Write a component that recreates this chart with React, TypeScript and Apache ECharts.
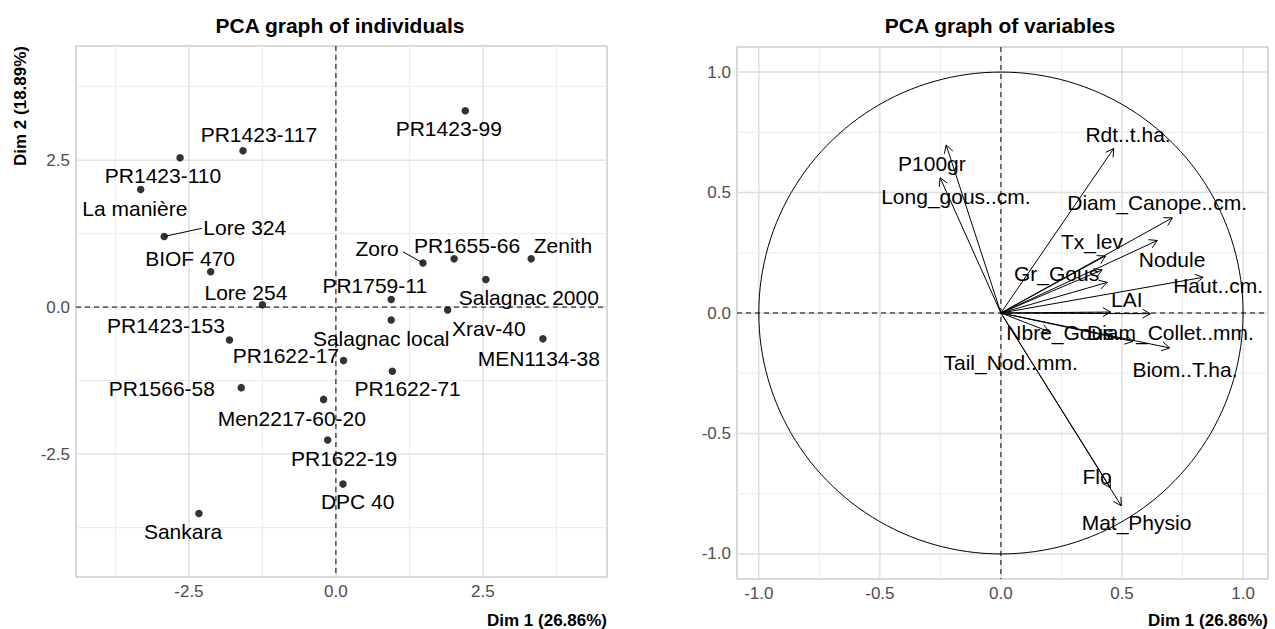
import React, { useEffect, useRef } from "react";
import * as echarts from "echarts";

// ---------- Individuals (PCA graph of individuals) ----------
const individuals = [
  "PR1423-99", "PR1423-117", "PR1423-110", "La manière", "Lore 324", "BIOF 470",
  "Lore 254", "Zoro", "PR1655-66", "Zenith", "Salagnac 2000", "Xrav-40",
  "PR1759-11", "Salagnac local", "MEN1134-38", "PR1423-153", "PR1622-17",
  "PR1622-71", "PR1566-58", "Men2217-60-20", "PR1622-19", "DPC 40", "Sankara",
];
const indDim1 = [
  2.2, -1.58, -2.65, -3.32, -2.92, -2.13, -1.25, 1.48, 2.01, 3.32, 2.55, 1.9,
  0.94, 0.94, 3.52, -1.81, 0.13, 0.96, -1.61, -0.21, -0.14, 0.12, -2.33,
];
const indDim2 = [
  3.34, 2.66, 2.54, 2.0, 1.2, 0.6, 0.04, 0.75, 0.82, 0.82, 0.47, -0.05,
  0.13, -0.22, -0.54, -0.56, -0.91, -1.09, -1.37, -1.57, -2.26, -3.01, -3.51,
];
// repelled label anchors (text centres) in Dim units
const indLabelDim1 = [
  1.92, -1.31, -2.94, -3.42, -1.55, -2.48, -1.53, 0.7, 2.23, 3.86, 3.28, 2.6,
  0.66, 0.77, 3.45, -2.89, -0.85, 1.22, -2.96, -0.75, 0.14, 0.37, -2.6,
];
const indLabelDim2 = [
  3.04, 2.93, 2.24, 1.68, 1.36, 0.83, 0.255, 0.99, 1.05, 1.04, 0.17, -0.37,
  0.37, -0.53, -0.88, -0.31, -0.82, -1.39, -1.38, -1.89, -2.57, -3.3, -3.81,
];
// leader segments: [individual index, end Dim1, end Dim2]
const indLeaders = [
  [4, -2.28, 1.34],
  [7, 1.14, 0.94],
];

// ---------- Variables (PCA graph of variables) ----------
const variables = [
  "P100gr", "Long_gous..cm.", "Rdt..t.ha.", "Diam_Canope..cm.", "Nodule", "Tx_lev",
  "Gr_Gous", "", "Haut..cm.", "LAI", "Diam_Collet..mm.", "Tail_Nod..mm.",
  "Nbre_Gous", "Biom..T.ha.", "Flo", "Mat_Physio",
];
const varDim1 = [
  -0.226, -0.251, 0.466, 0.708, 0.646, 0.432, 0.418, 0.439, 0.835, 0.453, 0.617,
  0.2, 0.545, 0.697, 0.452, 0.497,
];
const varDim2 = [
  0.697, 0.561, 0.683, 0.395, 0.301, 0.237, 0.179, 0.127, 0.148, 0.004, -0.003,
  -0.078, -0.118, -0.145, -0.725, -0.8,
];
const varLabelDim1 = [
  -0.285, -0.186, 0.525, 0.645, 0.707, 0.376, 0.23, 0, 0.897, 0.52, 0.7,
  0.04, 0.244, 0.76, 0.397, 0.56,
];
const varLabelDim2 = [
  0.622, 0.485, 0.74, 0.46, 0.22, 0.295, 0.166, 0, 0.116, 0.054, -0.083,
  -0.207, -0.083, -0.236, -0.68, -0.87,
];

// ---------- Axes ----------
const indTicks = [-2.5, 0, 2.5];
const indMinor = [-3.75, -1.25, 1.25, 3.75];
const varTicks = [-1, -0.5, 0, 0.5, 1];
const varMinor = [-0.75, -0.25, 0.25, 0.75];
const indXRange = [-4.42, 4.61];
const indYRange = [-4.59, 4.44];
const varXRange = [-1.09, 1.103];
const varYRange = [-1.104, 1.104];

const FONT = "'Liberation Sans', Arial, Helvetica, sans-serif";
const LABEL_FONT = `21px ${FONT}`;

function gridLinesSeries(gi: number, major: number[], minor: number[]) {
  const data: number[][] = [];
  major.forEach((v) => { data.push([v, 0, 1]); data.push([v, 1, 1]); });
  minor.forEach((v) => { data.push([v, 0, 0]); data.push([v, 1, 0]); });
  return {
    type: "custom",
    xAxisIndex: gi,
    yAxisIndex: gi,
    silent: true,
    z: 1,
    data,
    renderItem: (params: any, api: any) => {
      const cs = params.coordSys;
      const v = api.value(0);
      const vertical = api.value(1) === 0;
      const isMajor = api.value(2) === 1;
      const style = { stroke: isMajor ? "#dedede" : "#ebebeb", lineWidth: isMajor ? 1.4 : 1 };
      if (vertical) {
        const x = api.coord([v, 0])[0];
        return { type: "line", shape: { x1: x, y1: cs.y, x2: x, y2: cs.y + cs.height }, style };
      }
      const y = api.coord([0, v])[1];
      return { type: "line", shape: { x1: cs.x, y1: y, x2: cs.x + cs.width, y2: y }, style };
    },
  };
}

function zeroLinesSeries(gi: number) {
  return {
    type: "custom",
    xAxisIndex: gi,
    yAxisIndex: gi,
    silent: true,
    z: 3,
    data: [[0, 0], [0, 1]],
    renderItem: (params: any, api: any) => {
      const cs = params.coordSys;
      const p = api.coord([0, 0]);
      const style = { stroke: "#000", lineWidth: 1, lineDash: [5, 4] };
      if (api.value(1) === 0) {
        return { type: "line", shape: { x1: p[0], y1: cs.y, x2: p[0], y2: cs.y + cs.height }, style };
      }
      return { type: "line", shape: { x1: cs.x, y1: p[1], x2: cs.x + cs.width, y2: p[1] }, style };
    },
  };
}

function buildOption() {
  const tickFmt = (v: number) => v.toFixed(1);
  const axisCommon = (gi: number, range: number[], ticks: number[]) => ({
    type: "value",
    gridIndex: gi,
    min: range[0],
    max: range[1],
    axisLine: { show: false },
    splitLine: { show: false },
    axisTick: { show: true, customValues: ticks, length: 4, lineStyle: { color: "#b3b3b3", width: 1 } },
    axisLabel: {
      customValues: ticks,
      formatter: tickFmt,
      color: "#4d4d4d",
      fontSize: 17,
      fontFamily: FONT,
      margin: 6,
      showMinLabel: true,
      showMaxLabel: true,
    },
  });

  const indPoints = indDim1.map((x, i) => [x, indDim2[i]]);
  const indLabels = indLabelDim1.map((x, i) => [x, indLabelDim2[i], i]);
  const varArrows = varDim1.map((x, i) => [x, varDim2[i], i]);
  const varLabels = varLabelDim1
    .map((x, i) => [x, varLabelDim2[i], i])
    .filter((d) => variables[d[2]] !== "");

  return {
    animation: false,
    backgroundColor: "#ffffff",
    grid: [
      { left: 76, top: 46, width: 531, height: 531, show: true, borderColor: "#b3b3b3", borderWidth: 1 },
      { left: 737, top: 47, width: 531, height: 532, show: true, borderColor: "#b3b3b3", borderWidth: 1 },
    ],
    xAxis: [axisCommon(0, indXRange, indTicks), axisCommon(1, varXRange, varTicks)],
    yAxis: [axisCommon(0, indYRange, indTicks), axisCommon(1, varYRange, varTicks)],
    graphic: [
      {
        type: "text", x: 340, y: 25,
        style: { text: "PCA graph of individuals", font: `bold 21px ${FONT}`, fill: "#000",
          align: "center", verticalAlign: "middle", textAlign: "center", textVerticalAlign: "middle" },
      },
      {
        type: "text", x: 1000, y: 25,
        style: { text: "PCA graph of variables", font: `bold 21px ${FONT}`, fill: "#000",
          align: "center", verticalAlign: "middle", textAlign: "center", textVerticalAlign: "middle" },
      },
      {
        type: "text", x: 607, y: 620,
        style: { text: "Dim 1 (26.86%)", font: `bold 17px ${FONT}`, fill: "#000",
          align: "right", verticalAlign: "middle", textAlign: "right", textVerticalAlign: "middle" },
      },
      {
        type: "text", x: 1268, y: 620,
        style: { text: "Dim 1 (26.86%)", font: `bold 17px ${FONT}`, fill: "#000",
          align: "right", verticalAlign: "middle", textAlign: "right", textVerticalAlign: "middle" },
      },
      {
        type: "text", x: 20, y: 46, rotation: Math.PI / 2,
        style: { text: "Dim 2 (18.89%)", font: `bold 17px ${FONT}`, fill: "#000",
          align: "right", verticalAlign: "middle", textAlign: "right", textVerticalAlign: "middle" },
      },
    ],
    series: [
      gridLinesSeries(0, indTicks, indMinor),
      gridLinesSeries(1, varTicks, varMinor),
      zeroLinesSeries(0),
      zeroLinesSeries(1),
      {
        type: "scatter",
        xAxisIndex: 0,
        yAxisIndex: 0,
        symbol: "circle",
        symbolSize: 7.5,
        itemStyle: { color: "#000" },
        z: 5,
        silent: true,
        data: indPoints,
      },
      {
        type: "custom",
        xAxisIndex: 0,
        yAxisIndex: 0,
        silent: true,
        z: 4,
        data: indLeaders,
        renderItem: (params: any, api: any) => {
          const i = api.value(0);
          const a = api.coord([indDim1[i], indDim2[i]]);
          const b = api.coord([api.value(1), api.value(2)]);
          return { type: "line", shape: { x1: a[0], y1: a[1], x2: b[0], y2: b[1] }, style: { stroke: "#000", lineWidth: 1 } };
        },
      },
      {
        type: "custom",
        xAxisIndex: 0,
        yAxisIndex: 0,
        silent: true,
        z: 6,
        data: indLabels,
        renderItem: (params: any, api: any) => {
          const p = api.coord([api.value(0), api.value(1)]);
          return {
            type: "text",
            x: p[0],
            y: p[1],
            style: {
              text: individuals[api.value(2)],
              font: LABEL_FONT,
              fill: "#000",
              align: "center", verticalAlign: "middle", textAlign: "center", textVerticalAlign: "middle",
            },
          };
        },
      },
      {
        type: "custom",
        xAxisIndex: 1,
        yAxisIndex: 1,
        silent: true,
        z: 4,
        data: [[0, 0]],
        renderItem: (params: any, api: any) => {
          const pts: number[][] = [];
          for (let d = 0; d <= 360; d += 2) {
            const t = (d * Math.PI) / 180;
            pts.push(api.coord([Math.cos(t), Math.sin(t)]));
          }
          return { type: "polyline", shape: { points: pts }, style: { stroke: "#000", lineWidth: 1, fill: null } };
        },
      },
      {
        type: "custom",
        xAxisIndex: 1,
        yAxisIndex: 1,
        silent: true,
        z: 5,
        data: varArrows,
        renderItem: (params: any, api: any) => {
          const o = api.coord([0, 0]);
          const p = api.coord([api.value(0), api.value(1)]);
          const ang = Math.atan2(p[1] - o[1], p[0] - o[0]);
          const L = 9;
          const h = Math.PI / 6;
          const b1 = [p[0] - L * Math.cos(ang - h), p[1] - L * Math.sin(ang - h)];
          const b2 = [p[0] - L * Math.cos(ang + h), p[1] - L * Math.sin(ang + h)];
          const style = { stroke: "#000", lineWidth: 1, fill: null };
          return {
            type: "group",
            children: [
              { type: "line", shape: { x1: o[0], y1: o[1], x2: p[0], y2: p[1] }, style },
              { type: "polyline", shape: { points: [b1, p, b2] }, style },
            ],
          };
        },
      },
      {
        type: "custom",
        xAxisIndex: 1,
        yAxisIndex: 1,
        silent: true,
        z: 6,
        data: varLabels,
        renderItem: (params: any, api: any) => {
          const p = api.coord([api.value(0), api.value(1)]);
          return {
            type: "text",
            x: p[0],
            y: p[1],
            style: {
              text: variables[api.value(2)],
              font: LABEL_FONT,
              fill: "#000",
              align: "center", verticalAlign: "middle", textAlign: "center", textVerticalAlign: "middle",
            },
          };
        },
      },
    ],
  };
}

export default function App() {
  const ref = useRef<HTMLDivElement>(null);
  useEffect(() => {
    document.body.style.margin = "0";
    if (!ref.current) return;
    const chart = echarts.init(ref.current, undefined, { renderer: "svg" });
    chart.setOption(buildOption() as any);
    return () => chart.dispose();
  }, []);
  return <div ref={ref} style={{ width: 1275, height: 629 }} />;
}
